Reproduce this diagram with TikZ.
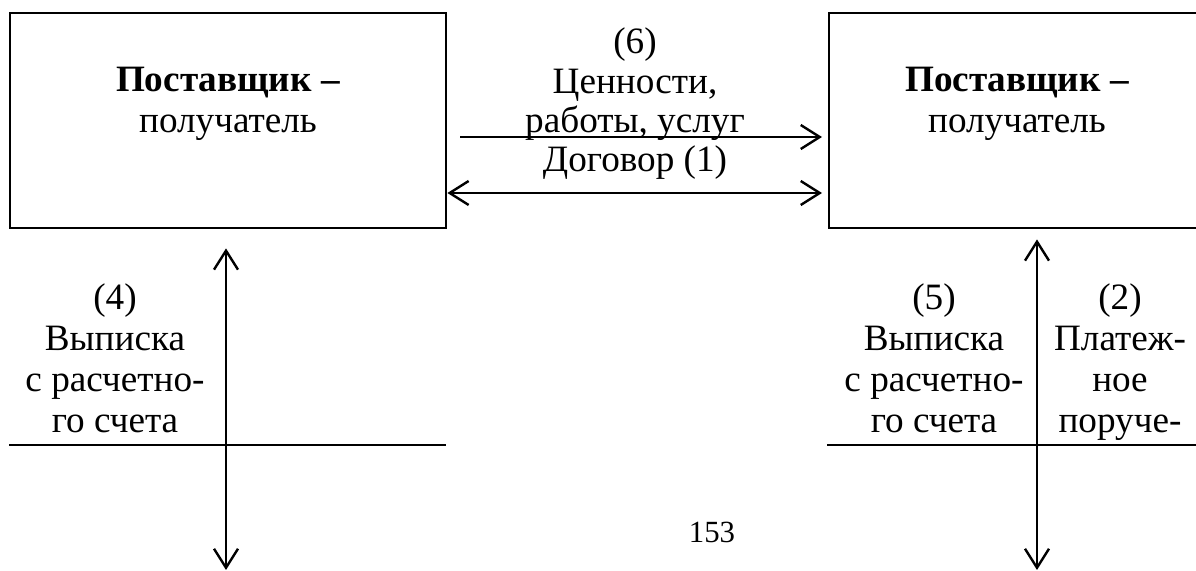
\documentclass[tikz,border=0pt]{standalone}
\usepackage{fontspec}
\setmainfont{Liberation Serif}
\usetikzlibrary{arrows.meta,calc}
\begin{document}
\begin{tikzpicture}[x=0.5pt,y=-0.5pt,
  party/.style={draw,line width=1.4pt,minimum width=218pt,minimum height=107.5pt,inner sep=0pt},
  lbl/.style={align=center,inner sep=0pt,anchor=base,font=\fontsize{18.6}{20.5}\selectfont},
  flow/.style={line width=1.2pt,-{Straight Barb[length=9.5pt,width=12pt]}},
  both/.style={line width=1.2pt,{Straight Barb[length=9.5pt,width=12pt]}-{Straight Barb[length=9.5pt,width=12pt]}},
  rule/.style={line width=1.2pt}]
\useasboundingbox (0,0) rectangle (1196,571);

% the two parties (labels are placed by the baseline of their last line)
\node[party] (lbox) at (228,120.5) {};
\node[party,minimum width=188pt] (rbox) at (1017,120.5) {};
\node[lbl] (ltxt) at (228,133) {\textbf{Поставщик –}\\получатель};
\node[lbl] (rtxt) at (1017,133) {\textbf{Поставщик –}\\получатель};

% flows between the parties
\node[lbl,font=\fontsize{18.6}{19.7}\selectfont] (mtxt) at (635,172) {(6)\\Ценности,\\работы, услуг\\Договор (1)};
\coordinate (gs) at (460,137);
\coordinate (ge) at (822,137);
\draw[flow] (gs) -- (ge);
\coordinate (ce) at (822,193);
\draw[both] (lbox.east |- ce) -- (ce);

% links down to the banks
\coordinate (lb) at (226,570);
\coordinate (rb) at (1037,570);
\draw[both] ($(lbox.south)+(-2,19)$) -- (lb);
\draw[both] ($(rbox.south)+(20,10)$) -- (rb);

% table rules
\coordinate (r1a) at (9,445);
\coordinate (r1b) at (446,445);
\coordinate (r2a) at (827,445);
\coordinate (r2b) at (1210,445);
\draw[rule] (r1a) -- (r1b);
\draw[rule] (r2a) -- (r2b);

% captions of the lower links
\node[lbl] (l4) at (115,433) {(4)\\Выписка\\с расчетно-\\го счета};
\node[lbl] (r5) at (934,433) {(5)\\Выписка\\с расчетно-\\го счета};
\node[lbl] (r2) at (1120,433) {(2)\\Платеж-\\ное\\поруче-};

% page number
\node[inner sep=0pt,anchor=base,font=\fontsize{15.4}{18}\selectfont] (page) at (712,543) {153};
\end{tikzpicture}
\end{document}
